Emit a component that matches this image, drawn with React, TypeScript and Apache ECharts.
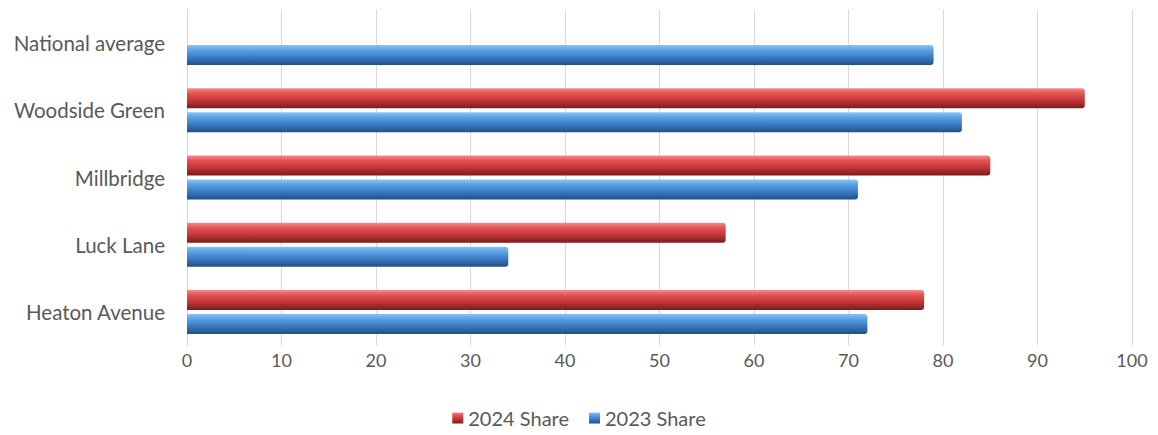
import React, { useEffect, useRef } from "react";
import * as echarts from "echarts";

const categories = ["Heaton Avenue", "Luck Lane", "Millbridge", "Woodside Green", "National average"];
const share2024 = [78, 57, 85, 95, null];
const share2023 = [72, 34, 71, 82, 79];
const xTicks = [0, 10, 20, 30, 40, 50, 60, 70, 80, 90, 100];

const FONT = "Lato, 'Open Sans', sans-serif";
const TEXT = "#595959";

// Vertical gradient gives each bar a rounded, cylinder-like shading
const redFill = new echarts.graphic.LinearGradient(0, 0, 0, 1, [
  { offset: 0, color: "#f48c8c" },
  { offset: 0.25, color: "#e25454" },
  { offset: 0.6, color: "#c53535" },
  { offset: 1, color: "#7a1c1c" },
]);
const blueFill = new echarts.graphic.LinearGradient(0, 0, 0, 1, [
  { offset: 0, color: "#8cc4f4" },
  { offset: 0.25, color: "#5aa2e4" },
  { offset: 0.6, color: "#3a7cc4" },
  { offset: 1, color: "#214f88" },
]);

export default function App() {
  const ref = useRef<HTMLDivElement>(null);
  useEffect(() => {
    if (!ref.current) return;
    const chart = echarts.init(ref.current, null, { renderer: "svg" });
    chart.setOption({
      animation: false,
      textStyle: { fontFamily: FONT },
      grid: { left: 187, right: 26, top: 9.5, bottom: 89.5, containLabel: false },
      legend: {
        top: 408,
        left: "center",
        padding: 0,
        icon: "rect",
        itemWidth: 11,
        itemHeight: 11,
        itemGap: 20,
        textStyle: { color: TEXT, fontSize: 20, fontFamily: FONT },
        data: ["2024 Share", "2023 Share"],
      },
      xAxis: {
        type: "value",
        min: 0,
        max: 100,
        interval: 10,
        axisLine: { show: false },
        axisTick: { show: false },
        axisLabel: { color: TEXT, fontSize: 18, margin: 5, formatter: (v: number) => (xTicks.includes(v) ? String(v) : "") },
        splitLine: { show: true, lineStyle: { color: "#d9d9d9", width: 1 } },
      },
      yAxis: {
        type: "category",
        data: categories,
        axisLine: { show: true, lineStyle: { color: "#d9d9d9" } },
        axisTick: { show: false },
        axisLabel: { color: TEXT, fontSize: 20.5, margin: 22 },
      },
      series: [
        {
          name: "2024 Share",
          type: "bar",
          data: share2024,
          barWidth: 20,
          barGap: "20%",
          itemStyle: { color: redFill, borderRadius: [0, 3, 3, 0] },
        },
        {
          name: "2023 Share",
          type: "bar",
          data: share2023,
          barWidth: 20,
          itemStyle: { color: blueFill, borderRadius: [0, 3, 3, 0] },
        },
      ],
    });
    return () => chart.dispose();
  }, []);
  return <div ref={ref} style={{ position: "absolute", left: 0, top: 0, width: 1158, height: 435 }} />;
}
